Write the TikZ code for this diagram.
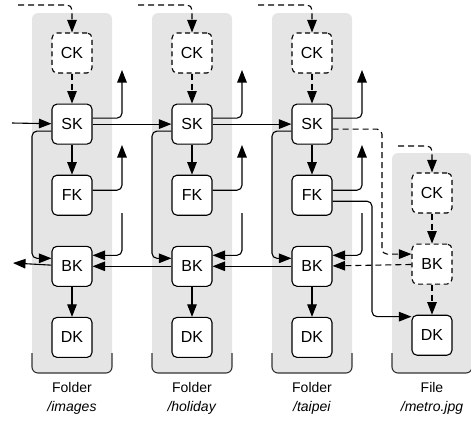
\documentclass[tikz,border=0pt]{standalone}
\usepackage{fontspec}
\setmainfont{Liberation Sans}
\usetikzlibrary{arrows.meta, positioning, calc}

\begin{document}
\begin{tikzpicture}[x=1pt, y=-1pt,
    Key/.style={draw, rounded corners=5pt, minimum width=40pt, minimum height=40pt,
                inner sep=0pt, fill=white, line width=1.1pt, font=\fontsize{16}{18}\selectfont},
    KeyDash/.style={Key, dash pattern=on 5pt off 3.5pt},
    Link/.style={line width=1.1pt, -{Triangle[length=12.5pt,width=9.5pt]}},
    LinkDash/.style={Link, dash pattern=on 6pt off 4pt},
    Bend/.style={rounded corners=5pt},
    Panel/.style={fill=black!10, rounded corners=6pt},
    Caption/.style={font=\fontsize{14}{16}\selectfont},
  ]
\useasboundingbox (0,0) rectangle (471,421);

% panels
\foreach \x/\t in {72/13, 192/13, 312/13, 432/153} {
  \fill[Panel] (\x-40,\t) rectangle (\x+40,373);
  \draw[line width=1.1pt, black!80, rounded corners=6pt] (\x-40,353) |- (\x+40,373) -- (\x+40,353);
}

% folder columns
\foreach \i/\x/\name in {1/72/images, 2/192/holiday, 3/312/taipei} {
  \node[KeyDash] (ck\i) at (\x,53) {CK};
  \node[Key, below=30pt of ck\i] (sk\i) {SK};
  \node[Key, below=30pt of sk\i] (fk\i) {FK};
  \node[Key, below=30pt of fk\i] (bk\i) {BK};
  \node[Key, below=30pt of bk\i] (dk\i) {DK};
  \node[Caption] (kind\i) at (\x,387) {Folder};
  \node[Caption, below=2pt of kind\i] (path\i) {\textit{/\name}};

  \coordinate (top\i) at (\x-54,5);
  \coordinate (sup\i) at (\x+50,70);
  \coordinate (fup\i) at (\x+50,145);
  \coordinate (free\i) at (\x+50,213);
  \coordinate (lft\i) at (\x-40,200);

  \draw[LinkDash, Bend] (top\i) -| (ck\i.north);
  \draw[LinkDash] (ck\i) -- (sk\i);
  \draw[Link] (sk\i) -- (fk\i);
  \draw[Link] (bk\i) -- (dk\i);
  \draw[Link, Bend] ([yshift=6pt]sk\i.east) -| (sup\i);
  \draw[Link, Bend] ([yshift=5pt]fk\i.east) -| (fup\i);
  \draw[Link, Bend] ([yshift=-7pt]sk\i.west) -| (lft\i) |- ([yshift=8pt]bk\i.west);
  \draw[Link, Bend] (free\i) |- ([yshift=11pt]bk\i.east);
}

% file column
\node[KeyDash] (ck4) at (432,193) {CK};
\node[KeyDash, below=30pt of ck4] (bk4) {BK};
\node[Key, below=30pt of bk4] (dk4) {DK};
\node[Caption] (kind4) at (432,387) {File};
\node[Caption, below=2pt of kind4] (path4) {\textit{/metro.jpg}};

\coordinate (top4) at (398,146);
\coordinate (in) at (12,123);
\coordinate (out) at (13,263);
\coordinate (dsh) at (382,200);
\coordinate (fdn) at (372,250);

\draw[LinkDash, Bend] (top4) -| (ck4.north);
\draw[LinkDash] (ck4) -- (bk4);
\draw[LinkDash] (bk4) -- (dk4);

% across the columns
\draw[Link] (in) -- (sk1);
\draw[Link] (sk1) -- (sk2);
\draw[Link] (sk2) -- (sk3);
\draw[Link] (bk1) -- (out);
\draw[Link] (bk2) -- (bk1);
\draw[Link] (bk3) -- (bk2);
\draw[LinkDash] (bk4) -- (bk3);
\draw[LinkDash, Bend] ([yshift=-5pt]sk3.east) -| (dsh) |- ([yshift=10pt]bk4.west);
\draw[Link, Bend] ([yshift=-6pt]fk3.east) -| (fdn) |- ([yshift=-2pt]dk4.north west);
\end{tikzpicture}
\end{document}
